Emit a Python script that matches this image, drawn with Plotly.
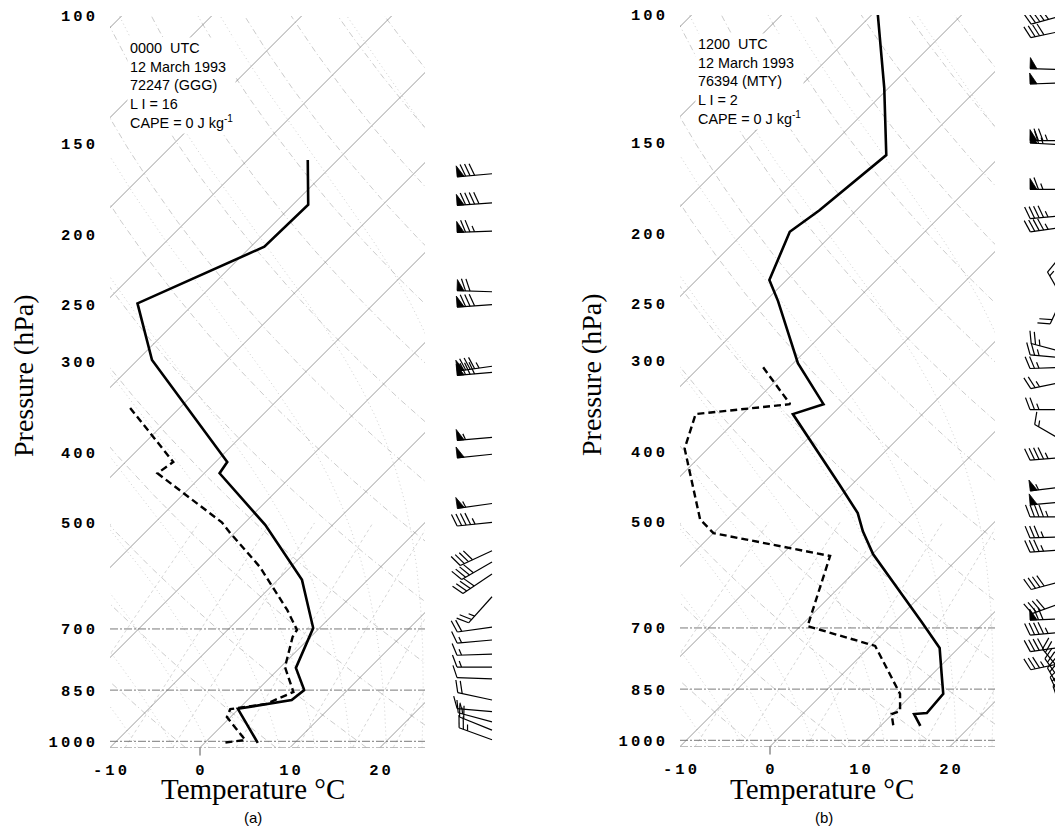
import numpy as np
import plotly.graph_objects as go

# ------------------------------------------------------------------ data
# Panel (a): 0000 UTC 12 March 1993, 72247 (GGG)
a_temp_p = [158, 182, 208, 249, 298, 412, 427, 503, 599, 698, 792, 850, 877, 888, 902, 1005]
a_temp_t = [-53.3, -48.3, -48.5, -56.3, -48.4, -28.7, -28.3, -17.5, -7.3, -0.7, 1.8, 5.2, 4.9, 2.6, -0.1, 5.9]
a_dewp_p = [347, 412, 427, 465, 499, 516, 575, 659, 702, 718, 790, 855, 888, 899, 903, 926, 996, 1005]
a_dewp_t = [-45.5, -34.7, -35.2, -28.3, -22.6, -20.5, -13.4, -5.6, -2.3, -2.0, 0.5, 4.2, 2.5, 0.0, -0.9, -0.4, 4.2, 1.9]
a_wind_p = [165, 181, 198, 240, 250, 304, 310, 381, 402, 470, 499, 546, 566, 588, 632,
            696, 725, 758, 790, 820, 877, 910, 940, 965, 995]
a_wind_dir = [265, 266, 268, 272, 266, 262, 265, 265, 264, 262, 264, 245, 240, 236, 222,
              262, 265, 268, 270, 272, 282, 275, 285, 292, 290]
a_wind_spd = [80, 90, 75, 70, 80, 85, 80, 55, 50, 55, 45, 40, 40, 40, 25,
              20, 15, 15, 15, 10, 20, 15, 15, 20, 25]

# Panel (b): 1200 UTC 12 March 1993, 76394 (MTY)
b_temp_p = [100, 126, 156, 167, 186, 199, 232, 248, 302, 344, 355, 444, 486, 515, 554, 689, 746, 810, 863, 917, 920, 955]
b_temp_t = [-69.3, -60.5, -52.8, -53.3, -54.1, -55.0, -51.9, -48.6, -39.5, -32.1, -34.4, -21.4, -16.2, -13.6, -9.9,
            3.2, 7.9, 11.0, 13.4, 13.7, 12.4, 14.4]
b_dewp_p = [306, 344, 355, 396, 496, 518, 557, 696, 741, 863, 911, 920, 955]
b_dewp_t = [-42.9, -35.8, -45.2, -42.6, -33.0, -30.0, -14.5, -9.2, 0.5, 8.6, 10.5, 9.9, 11.4]
b_wind_p = [100, 105, 119, 124, 149, 151, 174, 189, 196, 241, 249, 292, 297, 306, 320, 350, 388, 407,
            447, 469, 492, 524, 546, 602, 644, 680, 709, 743, 781, 815, 845, 875, 905, 935]
b_wind_dir = [255, 258, 272, 268, 270, 273, 270, 265, 262, 205, 330, 285, 275, 268, 258, 270, 300, 265,
              263, 265, 270, 268, 266, 255, 250, 268, 265, 262, 258, 320, 325, 330, 335, 340]
b_wind_spd = [45, 40, 50, 50, 75, 65, 65, 45, 45, 20, 15, 25, 25, 25, 25, 25, 15, 45,
              55, 50, 45, 35, 35, 40, 40, 70, 45, 40, 35, 20, 20, 20, 15, 15]

pressure_ticks = [100, 150, 200, 250, 300, 400, 500, 700, 850, 1000]
temp_ticks = [-10, 0, 10, 20]
isobar_lines = [1000, 850, 700]

panel_text_a = ["0000  UTC", "12 March 1993", "72247 (GGG)", "L I = 16", "CAPE = 0 J kg<sup>-1</sup>"]
panel_text_b = ["1200  UTC", "12 March 1993", "76394 (MTY)", "L I = 2", "CAPE = 0 J kg<sup>-1</sup>"]

# ------------------------------------------------------------------ geometry
W, H = 1063, 831          # browser window
OFF = 8                   # page body margin
FW, FH = W - OFF, H - OFF  # figure size so that it exactly fills the window
P_BOT, P_TOP = 1020.0, 100.0
SKEW = 35.0          # deg C of skew per unit ln(p)
PX_LN = 315.0        # pixels per unit ln(p)
T_MIN, T_MAX = -10.0, 25.0


def fx(X):
    return (X - OFF) / FW


def fy(Y):
    return 1 - (Y - OFF) / FH


def sx(T, p):
    return np.asarray(T, float) + SKEW * np.log(P_BOT / np.asarray(p, float))


def spaced(v):
    # wide-set digits, as in the original labels
    return '\u2009'.join(str(v))


p_grid = np.exp(np.linspace(np.log(P_BOT), np.log(P_TOP), 300))

fig = go.Figure()


def add_line(x, y, xr, yr, color, width, dash='solid'):
    fig.add_trace(go.Scatter(x=x, y=y, mode='lines', xaxis=xr, yaxis=yr,
                             line=dict(color=color, width=width, dash=dash),
                             hoverinfo='skip', showlegend=False))


def moist_adiabat(T0c):
    Rd, cp, Lv, eps = 287.04, 1005.7, 2.501e6, 0.622

    def f(lnp, T):
        p = np.exp(lnp)
        Tc = T - 273.15
        es = 6.112 * np.exp(17.67 * Tc / (Tc + 243.5))
        rs = eps * es / (p - es)
        return (Rd * T + Lv * rs) / (cp + Lv ** 2 * rs * eps / (Rd * T ** 2))

    def integrate(p_end, n):
        lnp = np.log(1000.0)
        T = T0c + 273.15
        h = (np.log(p_end) - lnp) / n
        ps, Ts = [1000.0], [T]
        for _ in range(n):
            k1 = f(lnp, T)
            k2 = f(lnp + h / 2, T + h / 2 * k1)
            k3 = f(lnp + h / 2, T + h / 2 * k2)
            k4 = f(lnp + h, T + h * k3)
            T = T + h / 6 * (k1 + 2 * k2 + 2 * k3 + k4)
            lnp += h
            ps.append(np.exp(lnp))
            Ts.append(T)
        return np.array(ps), np.array(Ts) - 273.15

    pu, tu = integrate(P_TOP, 240)
    pd, td = integrate(P_BOT, 5)
    return np.concatenate([pd[::-1], pu[1:]]), np.concatenate([td[::-1], tu[1:]])


def background(xr, yr):
    # dry adiabats
    for theta in range(230, 481, 10):
        T = theta * (p_grid / 1000.0) ** 0.2857 - 273.15
        add_line(sx(T, p_grid), p_grid, xr, yr, '#b4b4b4', 0.7, '6px,3px,1px,3px')
    # moist adiabats
    for t0 in range(-16, 37, 4):
        pp, tt = moist_adiabat(t0)
        add_line(sx(tt, pp), pp, xr, yr, '#bcbcbc', 0.7, '1px,3px')
    # mixing-ratio lines
    pm = np.exp(np.linspace(np.log(P_BOT), np.log(500), 60))
    for w in [0.4, 1, 2, 3, 5, 8, 12, 16, 20, 28]:
        e = pm * w / (622.0 + w)
        le = np.log(e / 6.112)
        Td = 243.5 * le / (17.67 - le)
        add_line(sx(Td, pm), pm, xr, yr, '#c4c4c4', 0.7, '3px,3px')
    # isotherms
    for T in range(-120, 31, 10):
        pp = np.array([P_BOT, P_TOP])
        add_line(sx([T, T], pp), pp, xr, yr, '#7a7a7a', 0.75)
    # isobars
    for p in isobar_lines + [P_BOT]:
        add_line([T_MIN, T_MAX], [p, p], xr, yr, '#6a6a6a', 0.9, '8px,2px,2px,2px')


def profiles(xr, yr, tp, tt, dp, dt):
    add_line(sx(tt, tp), tp, xr, yr, 'black', 2.6)
    add_line(sx(dt, dp), dp, xr, yr, 'black', 2.4, '7px,4px')


def barbs(xr, yr, base_x, plist, dlist, slist, staff=35.0, blen=12.0, gap=4.5, slant=4.5,
          flag_w=7.0, flag_h=11.0):
    lx, ly, fxs, fys = [], [], [], []

    def to_data(px, up, p0):
        return px, p0 * np.exp(-up / PX_LN)

    for p0, d, s in zip(plist, dlist, slist):
        r = np.deg2rad(d)
        ux, uy = np.sin(r), np.cos(r)        # base -> tip (screen, y up)
        nx, ny = uy, -ux                      # barb side
        tip = (base_x + ux * staff, uy * staff)

        def P(pos):
            return tip[0] - ux * pos, tip[1] - uy * pos

        x0, y0 = to_data(base_x, 0.0, p0)
        x1, y1 = to_data(tip[0], tip[1], p0)
        lx += [x0, x1, None]
        ly += [y0, y1, None]
        spd = int(5 * round(s / 5.0))
        nflag, rem = divmod(spd, 50)
        nfull, rem = divmod(rem, 10)
        half = rem >= 5
        pos = 0.0
        for _ in range(nflag):
            a = P(pos)
            b = (a[0] + nx * flag_h, a[1] + ny * flag_h)
            c = P(pos + flag_w)
            for q in (a, b, c, a):
                qx, qy = to_data(q[0], q[1], p0)
                fxs.append(qx)
                fys.append(qy)
            fxs.append(None)
            fys.append(None)
            pos += flag_w + 1.5
        for _ in range(nfull):
            a = P(pos)
            b = (a[0] + nx * blen + ux * slant, a[1] + ny * blen + uy * slant)
            for q in (a, b):
                qx, qy = to_data(q[0], q[1], p0)
                lx.append(qx)
                ly.append(qy)
            lx.append(None)
            ly.append(None)
            pos += gap
        if half:
            if nflag == 0 and nfull == 0:
                pos += gap
            a = P(pos)
            b = (a[0] + nx * blen / 2 + ux * slant / 2, a[1] + ny * blen / 2 + uy * slant / 2)
            for q in (a, b):
                qx, qy = to_data(q[0], q[1], p0)
                lx.append(qx)
                ly.append(qy)
            lx.append(None)
            ly.append(None)
    fig.add_trace(go.Scatter(x=lx, y=ly, mode='lines', xaxis=xr, yaxis=yr,
                             line=dict(color='black', width=1.2), hoverinfo='skip', showlegend=False))
    fig.add_trace(go.Scatter(x=fxs, y=fys, mode='lines', xaxis=xr, yaxis=yr, fill='toself',
                             fillcolor='black', line=dict(color='black', width=0.8),
                             hoverinfo='skip', showlegend=False))


background('x', 'y')
profiles('x', 'y', a_temp_p, a_temp_t, a_dewp_p, a_dewp_t)
background('x2', 'y2')
profiles('x2', 'y2', b_temp_p, b_temp_t, b_dewp_p, b_dewp_t)
barbs('x3', 'y3', 492, a_wind_p, a_wind_dir, a_wind_spd)
barbs('x4', 'y4', 1065, b_wind_p, b_wind_dir, b_wind_spd)

# ------------------------------------------------------------------ layout
SPAN = PX_LN * np.log(P_BOT / P_TOP)
ya_dom = [fy(16 + SPAN), fy(16)]
yb_dom = [fy(15 + SPAN), fy(15)]
tick_font = dict(family='Liberation Mono', size=15.5, color='black', weight='bold')

xcommon = dict(range=[T_MIN, T_MAX], showgrid=False, zeroline=False, showline=False,
               tickvals=temp_ticks, ticktext=[spaced(t) for t in temp_ticks], ticks='',
               tickfont=tick_font, ticklabelstandoff=11, fixedrange=True, automargin=False,
               ticklabeloverflow='allow')
ycommon = dict(type='log', range=[np.log10(P_BOT), np.log10(P_TOP)], showgrid=False,
               zeroline=False, showline=False, tickvals=pressure_ticks,
               ticktext=[spaced(p) for p in pressure_ticks], ticks='', tickfont=tick_font,
               ticklabelstandoff=14, fixedrange=True, automargin=False,
               ticklabeloverflow='allow')
hidden = dict(visible=False, showgrid=False, zeroline=False, fixedrange=True, automargin=False)
log_range = [np.log10(P_BOT), np.log10(P_TOP)]

fig.update_layout(
    template='none',
    width=FW, height=FH, margin=dict(l=0, r=0, t=0, b=0, pad=0, autoexpand=False),
    paper_bgcolor='white', plot_bgcolor='rgba(0,0,0,0)', showlegend=False,
    xaxis=dict(xcommon, domain=[fx(110), fx(425)], anchor='y'),
    yaxis=dict(ycommon, domain=ya_dom, anchor='x'),
    xaxis2=dict(xcommon, domain=[fx(680), fx(995)], anchor='y2'),
    yaxis2=dict(ycommon, domain=yb_dom, anchor='x2'),
    xaxis3=dict(hidden, domain=[fx(440), fx(520)], range=[440, 520], anchor='y3'),
    yaxis3=dict(hidden, type='log', domain=ya_dom, range=log_range, anchor='x3'),
    xaxis4=dict(hidden, domain=[fx(1000), 1.0], range=[1000, 1063], anchor='y4'),
    yaxis4=dict(hidden, type='log', domain=yb_dom, range=log_range, anchor='x4'),
)

# x tick mark at 0 C
for xr, dom in [('x', ya_dom), ('x2', yb_dom)]:
    fig.add_shape(type='line', xref=xr, yref='paper', x0=0, x1=0, y0=dom[0], y1=dom[0] - 8 / FH,
                  line=dict(color='#555', width=1))


def ann(text, x, y, size, family, xanchor='center', yanchor='middle', angle=0, align='center',
        bg=None):
    fig.add_annotation(text=text, x=fx(x), y=fy(y), xref='paper', yref='paper', showarrow=False,
                       font=dict(family=family, size=size, color='black'), xanchor=xanchor,
                       yanchor=yanchor, textangle=angle, align=align,
                       bgcolor=bg if bg else 'rgba(0,0,0,0)', borderpad=2)


serif = 'Liberation Serif'
sans = 'Liberation Sans'
ann('Pressure (hPa)', 24, 376, 28, serif, angle=-90)
ann('Pressure (hPa)', 591, 375, 28, serif, angle=-90)
ann('Temperature °C', 253, 789, 29, serif)
ann('Temperature °C', 822, 789, 29, serif)
ann('(a)', 253, 817, 15, sans)
ann('(b)', 824, 817, 15, sans)
ann('<br>'.join(panel_text_a), 127, 37, 14.4, sans, xanchor='left', yanchor='top', align='left', bg='white')
ann('<br>'.join(panel_text_b), 695, 33, 14.4, sans, xanchor='left', yanchor='top', align='left', bg='white')

fig.write_html('out.html')
